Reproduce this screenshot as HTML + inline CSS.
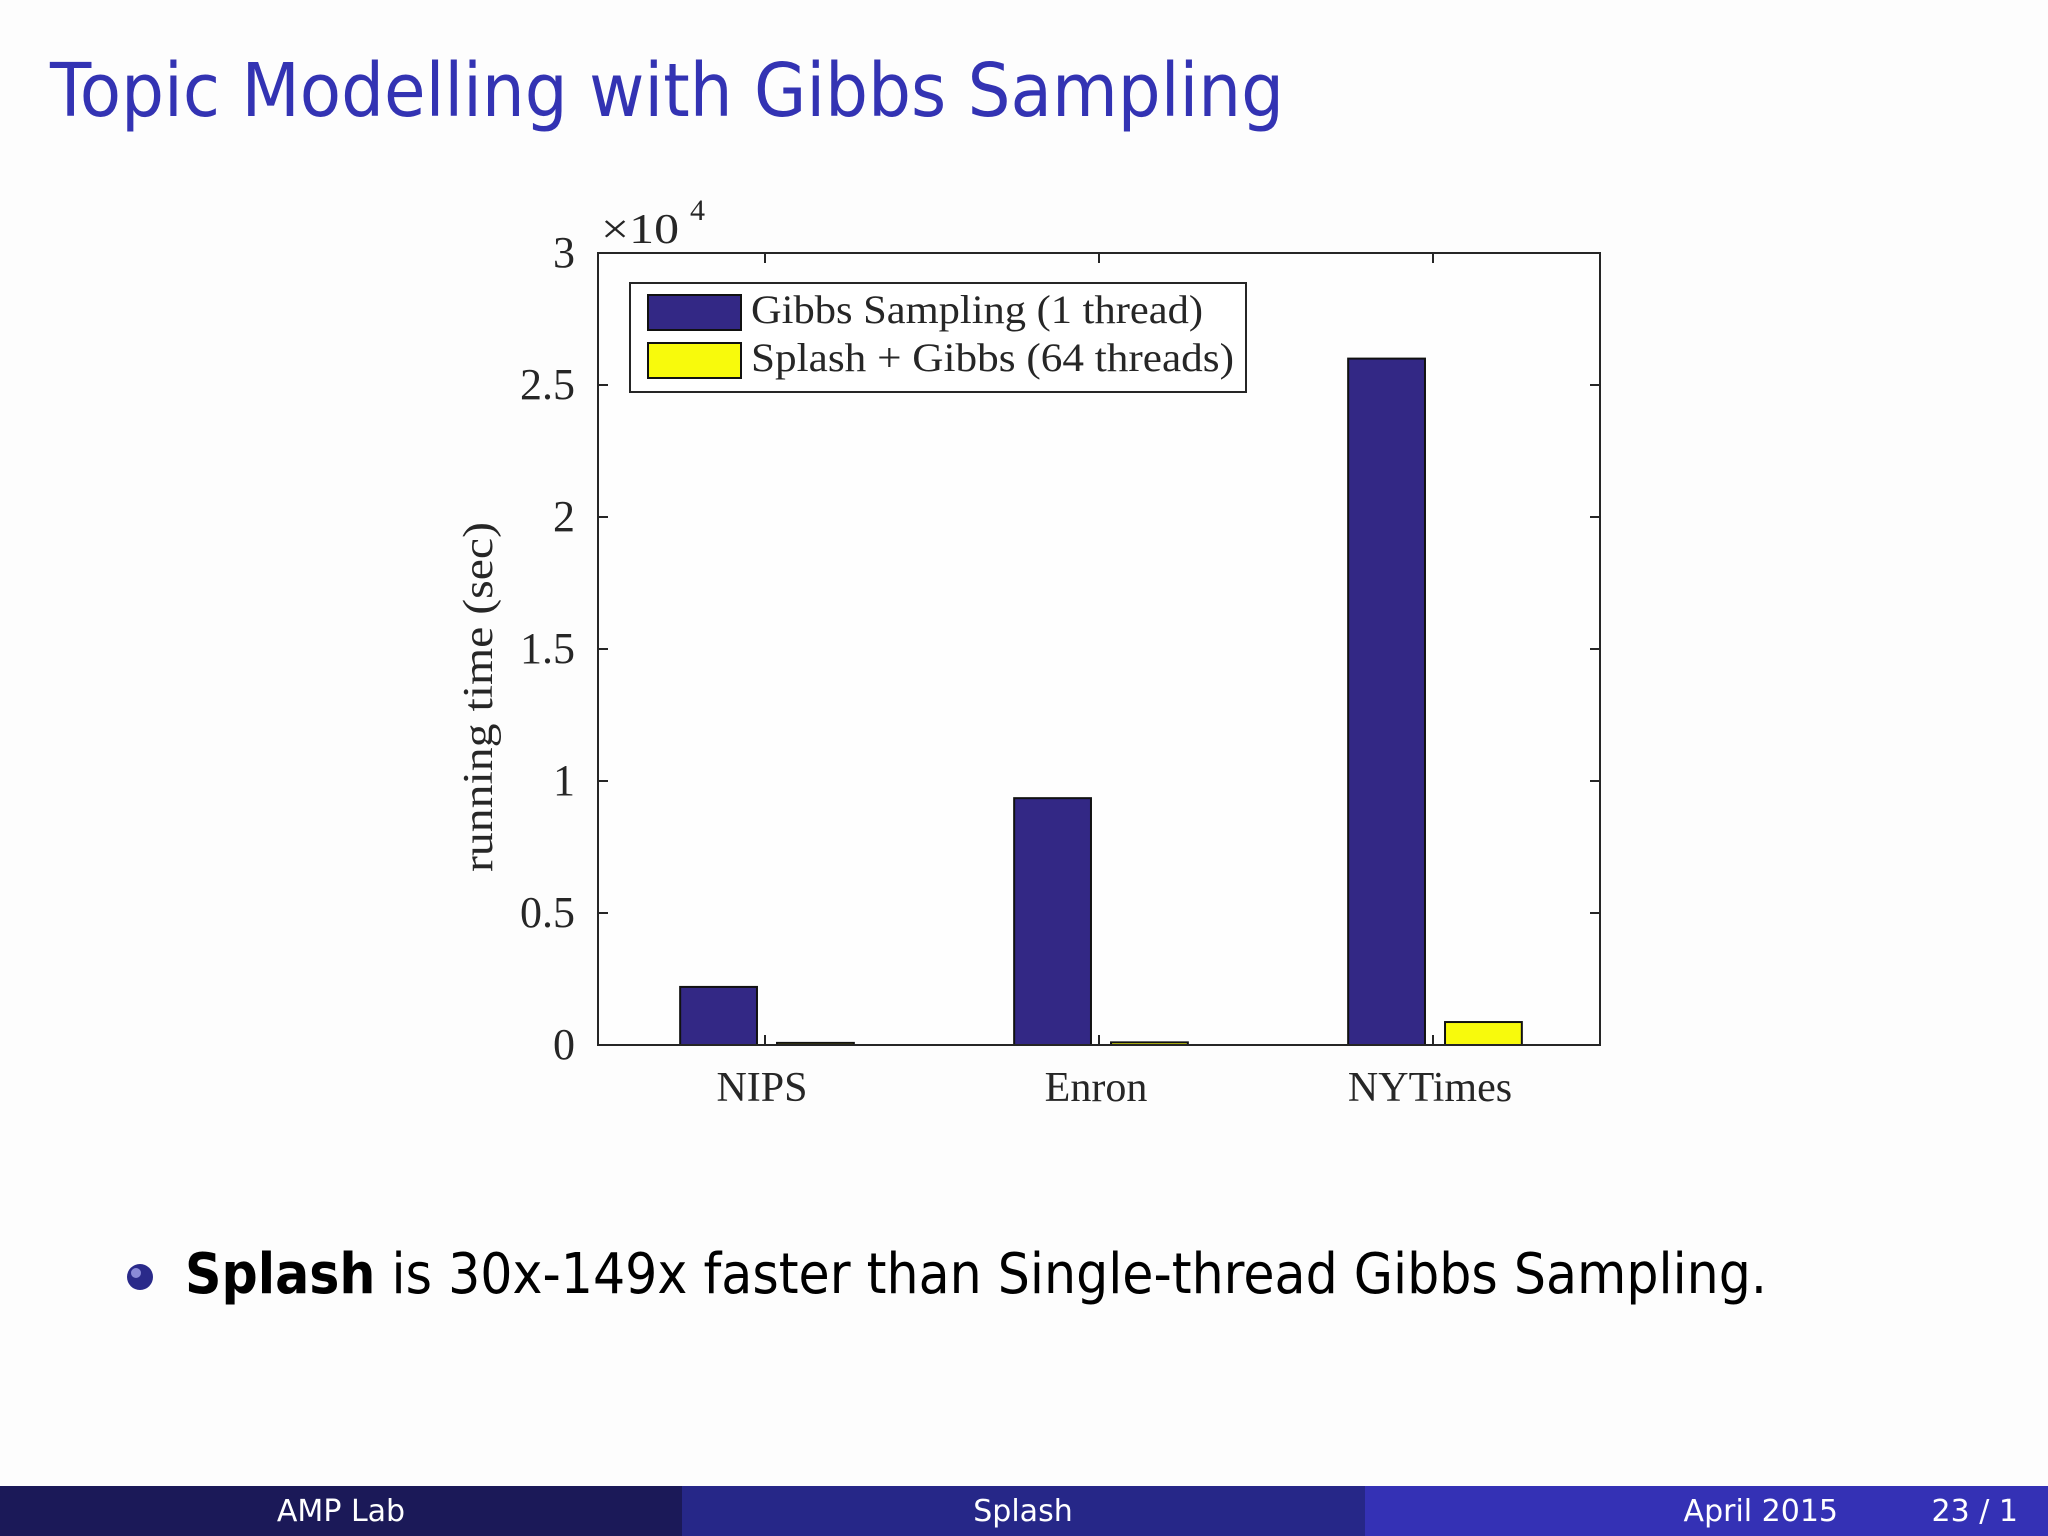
<!DOCTYPE html>
<html><head><meta charset="utf-8"><style>
html,body{margin:0;padding:0;background:#fdfdfd;}
svg{display:block;}
</style></head><body>
<svg id="slide" width="2048" height="1536" viewBox="0 0 2048 1536" xmlns="http://www.w3.org/2000/svg">
<rect x="0" y="0" width="2048" height="1536" fill="#fdfdfd"/>
<text x="50" y="116" font-family="'DejaVu Sans', 'Liberation Sans', sans-serif" font-size="74" fill="#3333b3" textLength="1234" lengthAdjust="spacingAndGlyphs">Topic Modelling with Gibbs Sampling</text>
<g id="chart"></g>
<circle cx="140" cy="1277" r="13" fill="#2a2a8a"/>
<circle cx="136" cy="1273" r="5" fill="#8a8ad8"/>
<text x="185" y="1293" font-family="'DejaVu Sans', 'Liberation Sans', sans-serif" font-size="56" fill="#000" textLength="1582" lengthAdjust="spacingAndGlyphs"><tspan font-weight="bold">Splash</tspan> is 30x-149x faster than Single-thread Gibbs Sampling.</text>
<rect x="0" y="1486" width="682" height="50" fill="#1b1958"/>
<rect x="682" y="1486" width="683" height="50" fill="#262788"/>
<rect x="1365" y="1486" width="683" height="50" fill="#3431b5"/>
<g font-family="'DejaVu Sans', 'Liberation Sans', sans-serif" font-size="30" fill="#fff">
<text x="341" y="1521" text-anchor="middle">AMP Lab</text>
<text x="1023" y="1521" text-anchor="middle">Splash</text>
<text x="1838" y="1521" text-anchor="end">April 2015</text>
<text x="2018" y="1521" text-anchor="end">23 / 1</text>
</g>
</svg>
<script>
const categories = ["NIPS", "Enron", "NYTimes"];
const gibbsValues = [2200, 9350, 26000];
const splashValues = [80, 100, 870];
const yTicks = [0, 5000, 10000, 15000, 20000, 25000, 30000];
const yTickLabels = ["0", "0.5", "1", "1.5", "2", "2.5", "3"];
const seriesNames = ["Gibbs Sampling (1 thread)", "Splash + Gibbs (64 threads)"];

const NS = "http://www.w3.org/2000/svg";
const g = document.getElementById("chart");
const L = 598, R = 1600, T = 253, B = 1045;
const yMax = 30000;
function y(v){ return B - v / yMax * (B - T); }
function x(c){ return L + (c + 0.5) / categories.length * (R - L); }
const catW = (R - L) / categories.length;
function mk(tag, attrs){ const e = document.createElementNS(NS, tag); for (const k in attrs) e.setAttribute(k, attrs[k]); g.appendChild(e); return e; }
const serif = "'Liberation Serif', 'DejaVu Serif', serif";

let a = mk("rect", {x: L, y: T, width: R - L, height: B - T, fill: "#fefefe", stroke: "#262626", "stroke-width": 2});



yTicks.forEach((v, i) => {
  const yy = y(v);
  let t1 = mk("line", {x1: L, x2: L + 10, y1: yy, y2: yy, stroke: "#262626", "stroke-width": 2});
  
  
  let t2 = mk("line", {x1: R, x2: R - 10, y1: yy, y2: yy, stroke: "#262626", "stroke-width": 2});
  
  
  let lb = mk("text", {x: 575, y: yy + 14, "text-anchor": "end", "font-family": serif, "font-size": 44, fill: "#262626"});
  lb.textContent = yTickLabels[i];
  
  
});

const barW = catW * 0.23, off = catW * 0.145;
categories.forEach((c, i) => {
  const cx = x(i);
  let tb = mk("line", {x1: cx, x2: cx, y1: B, y2: B - 10, stroke: "#262626", "stroke-width": 2});
  
  
  let tt = mk("line", {x1: cx, x2: cx, y1: T, y2: T + 10, stroke: "#262626", "stroke-width": 2});
  
  
  let b1 = mk("rect", {x: cx - off - barW / 2 + 2, y: y(gibbsValues[i]), width: barW, height: B - y(gibbsValues[i]), fill: "#332885", stroke: "#111", "stroke-width": 2});
  
  
  let b2 = mk("rect", {x: cx + off - barW / 2 + 2, y: y(splashValues[i]), width: barW, height: B - y(splashValues[i]), fill: "#f8fa0c", stroke: "#111", "stroke-width": 2});
  
  
  let lb = mk("text", {x: cx - 3, y: 1101, "text-anchor": "middle", "font-family": serif, "font-size": 42, fill: "#262626"});
  lb.textContent = c;
  
  
});

let bl = mk("line", {x1: L, x2: R, y1: B, y2: B, stroke: "#262626", "stroke-width": 2});



let ex = mk("text", {x: 601, y: 243, "font-family": serif, "font-size": 42, fill: "#262626", textLength: 78, lengthAdjust: "spacingAndGlyphs"});
ex.textContent = "×10";


let ex2 = mk("text", {x: 690, y: 220, "font-family": serif, "font-size": 30, fill: "#262626"});
ex2.textContent = "4";



let yl = mk("text", {x: 0, y: 0, transform: "translate(492,697) rotate(-90)", "text-anchor": "middle", "font-family": serif, "font-size": 42, fill: "#262626", textLength: 350, lengthAdjust: "spacingAndGlyphs"});
yl.textContent = "running time (sec)";



let lg = mk("rect", {x: 630, y: 283, width: 616, height: 109, fill: "#fff", stroke: "#262626", "stroke-width": 2});


const swatchColors = ["#332885", "#f8fa0c"];
const legendLens = [452, 483];
seriesNames.forEach((s, i) => {
  let sw = mk("rect", {x: 648, y: 295 + i * 48, width: 93, height: 35, fill: swatchColors[i], stroke: "#111", "stroke-width": 2});
  
  
  let tx = mk("text", {x: 751, y: 323 + i * 48, "font-family": serif, "font-size": 40, fill: "#262626", textLength: legendLens[i], lengthAdjust: "spacingAndGlyphs"});
  tx.textContent = s;
  
  
});
</script>
</body></html>
